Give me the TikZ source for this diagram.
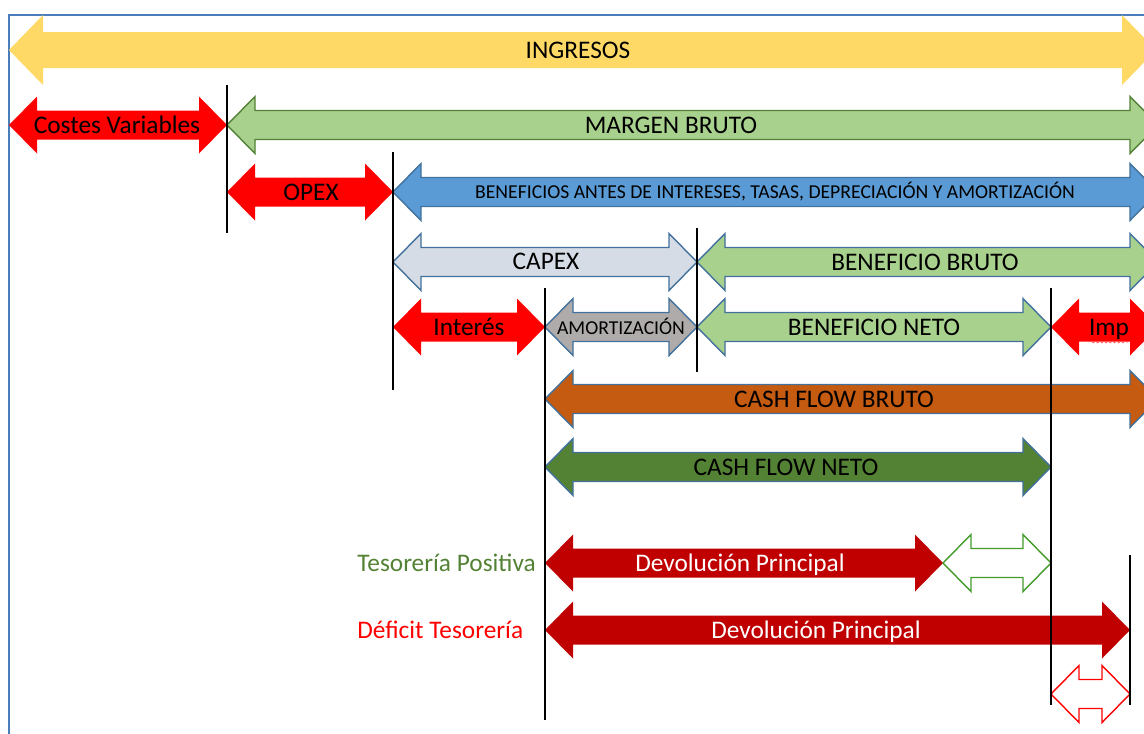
\documentclass[tikz,border=0pt]{standalone}
\usepackage{fontspec}
\setmainfont{Carlito}
\usetikzlibrary{decorations.pathmorphing}
\definecolor{amarillo}{HTML}{FFD966}
\definecolor{rojo}{HTML}{FF0000}
\definecolor{granate}{HTML}{C00000}
\definecolor{verdeclaro}{HTML}{A9D18E}
\definecolor{verdeborde}{HTML}{538135}
\definecolor{verdeoscuro}{HTML}{548235}
\definecolor{azul}{HTML}{5B9BD5}
\definecolor{azulborde}{HTML}{41719C}
\definecolor{grisazul}{HTML}{D6DCE5}
\definecolor{gris}{HTML}{AFABAB}
\definecolor{naranja}{HTML}{C55A11}
\definecolor{marco}{HTML}{4A7EBB}
\tikzstyle{etiqueta} = [inner sep=0pt, anchor=base, yshift=-5.8pt, text=black, font=\fontsize{18}{21}\selectfont]
\tikzstyle{pequena} = [inner sep=0pt, anchor=base, yshift=-4.5pt, text=black, font=\fontsize{14}{16}\selectfont]
\tikzstyle{blanca} = [etiqueta, text=white]
\tikzstyle{marca} = [line width=1.4pt, black]
\tikzstyle{conborde} = [draw=azulborde, line width=1pt, line join=miter]
% double block arrow from x=#2 to x=#3 at height #4
\def\fhl{28}\def\fhh{28.5}\def\fsh{14.5}
\newcommand{\flecha}[4][]{%
  \path[#1] (#2,#4) -- ({#2+\fhl},{#4-\fhh}) -- ({#2+\fhl},{#4-\fsh})
    -- ({#3-\fhl},{#4-\fsh}) -- ({#3-\fhl},{#4-\fhh}) -- (#3,#4)
    -- ({#3-\fhl},{#4+\fhh}) -- ({#3-\fhl},{#4+\fsh})
    -- ({#2+\fhl},{#4+\fsh}) -- ({#2+\fhl},{#4+\fhh}) -- cycle;}

\begin{document}
\begin{tikzpicture}[x=0.025cm, y=-0.025cm]
  \useasboundingbox (0,0) rectangle (1144,733);
  \clip (0,0) rectangle (1144,733);
  \fill[white] (0,0) rectangle (1144,733);

  % Frame
  \draw[marco, line width=1.1pt] (9,15) rectangle (1170,760);

  % Ingresos
  {\def\fhl{34}\def\fhh{35}\def\fsh{18}
   \flecha[fill=amarillo]{9}{1156}{50}}
  \node[etiqueta] (ingresos) at (578,50) {INGRESOS};

  % Margen bruto
  \flecha[fill=rojo]{9}{227}{125}
  \flecha[fill=verdeclaro, conborde, draw=verdeborde]{227}{1158}{125}
  \node[etiqueta] (costes) at (117,125) {Costes Variables};
  \node[etiqueta] (margen) at (671,125) {MARGEN BRUTO};

  % EBITDA
  \flecha[fill=rojo]{227}{393}{192}
  \flecha[fill=azul, conborde]{393}{1158}{192}
  \node[etiqueta] (opex) at (311,192) {OPEX};
  \node[pequena] (ebitda) at (775,192) {BENEFICIOS ANTES DE INTERESES, TASAS, DEPRECIACIÓN Y AMORTIZACIÓN};

  % Beneficio bruto
  \flecha[fill=grisazul, conborde]{393}{697}{262}
  \flecha[fill=verdeclaro, conborde]{697}{1158}{262}
  \node[etiqueta] (capex) at (546,261) {CAPEX};
  \node[etiqueta] (bbruto) at (925,262) {BENEFICIO BRUTO};

  % Beneficio neto
  \flecha[fill=rojo]{393}{545}{327}
  \flecha[fill=gris, conborde]{545}{697}{327}
  \flecha[fill=verdeclaro, conborde]{697}{1051}{327}
  \flecha[fill=rojo]{1051}{1158}{327}
  \node[etiqueta] (interes) at (469,327) {Interés};
  \node[pequena] (amort) at (621,328) {AMORTIZACIÓN};
  \node[etiqueta] (bneto) at (874,327) {BENEFICIO NETO};
  \node[etiqueta] (imp) at (1109,327) {Imp};
  \draw[rojo!70, line width=0.4pt, decorate, decoration={snake, amplitude=0.7, segment length=3}]
    (1090,342) -- (1128,342);

  % Cash flow
  \flecha[fill=naranja, conborde]{545}{1158}{399}
  \flecha[fill=verdeoscuro, conborde]{545}{1051}{467}
  \node[etiqueta] (cfbruto) at (834,399) {CASH FLOW BRUTO};
  \node[etiqueta] (cfneto) at (786,467) {CASH FLOW NETO};

  % Tesoreria positiva
  \node[etiqueta, text=verdeoscuro, anchor=base east] (positiva) at (536,563) {Tesorería Positiva};
  \flecha[fill=granate]{545}{943}{563}
  \flecha[fill=white, draw=verdeoscuro!80!green, line width=1pt]{943}{1051}{563}
  \node[blanca] (devol1) at (740,563) {Devolución Principal};

  % Deficit tesoreria
  \node[etiqueta, text=rojo, anchor=base west] (deficit) at (357,630) {Déficit Tesorería};
  \flecha[fill=granate]{545}{1130}{630}
  \node[blanca] (devol2) at (816,630) {Devolución Principal};
  \flecha[fill=white, draw=rojo, line width=1pt]{1051}{1130}{694}

  % Vertical marks
  \draw[marca] (227,85) -- (227,233);
  \draw[marca] (393,152) -- (393,390);
  \draw[marca] (697,228) -- (697,372);
  \draw[marca] (545,288) -- (545,720);
  \draw[marca] (1051,288) -- (1051,705);
  \draw[marca] (1130,555) -- (1130,705);
\end{tikzpicture}
\end{document}
